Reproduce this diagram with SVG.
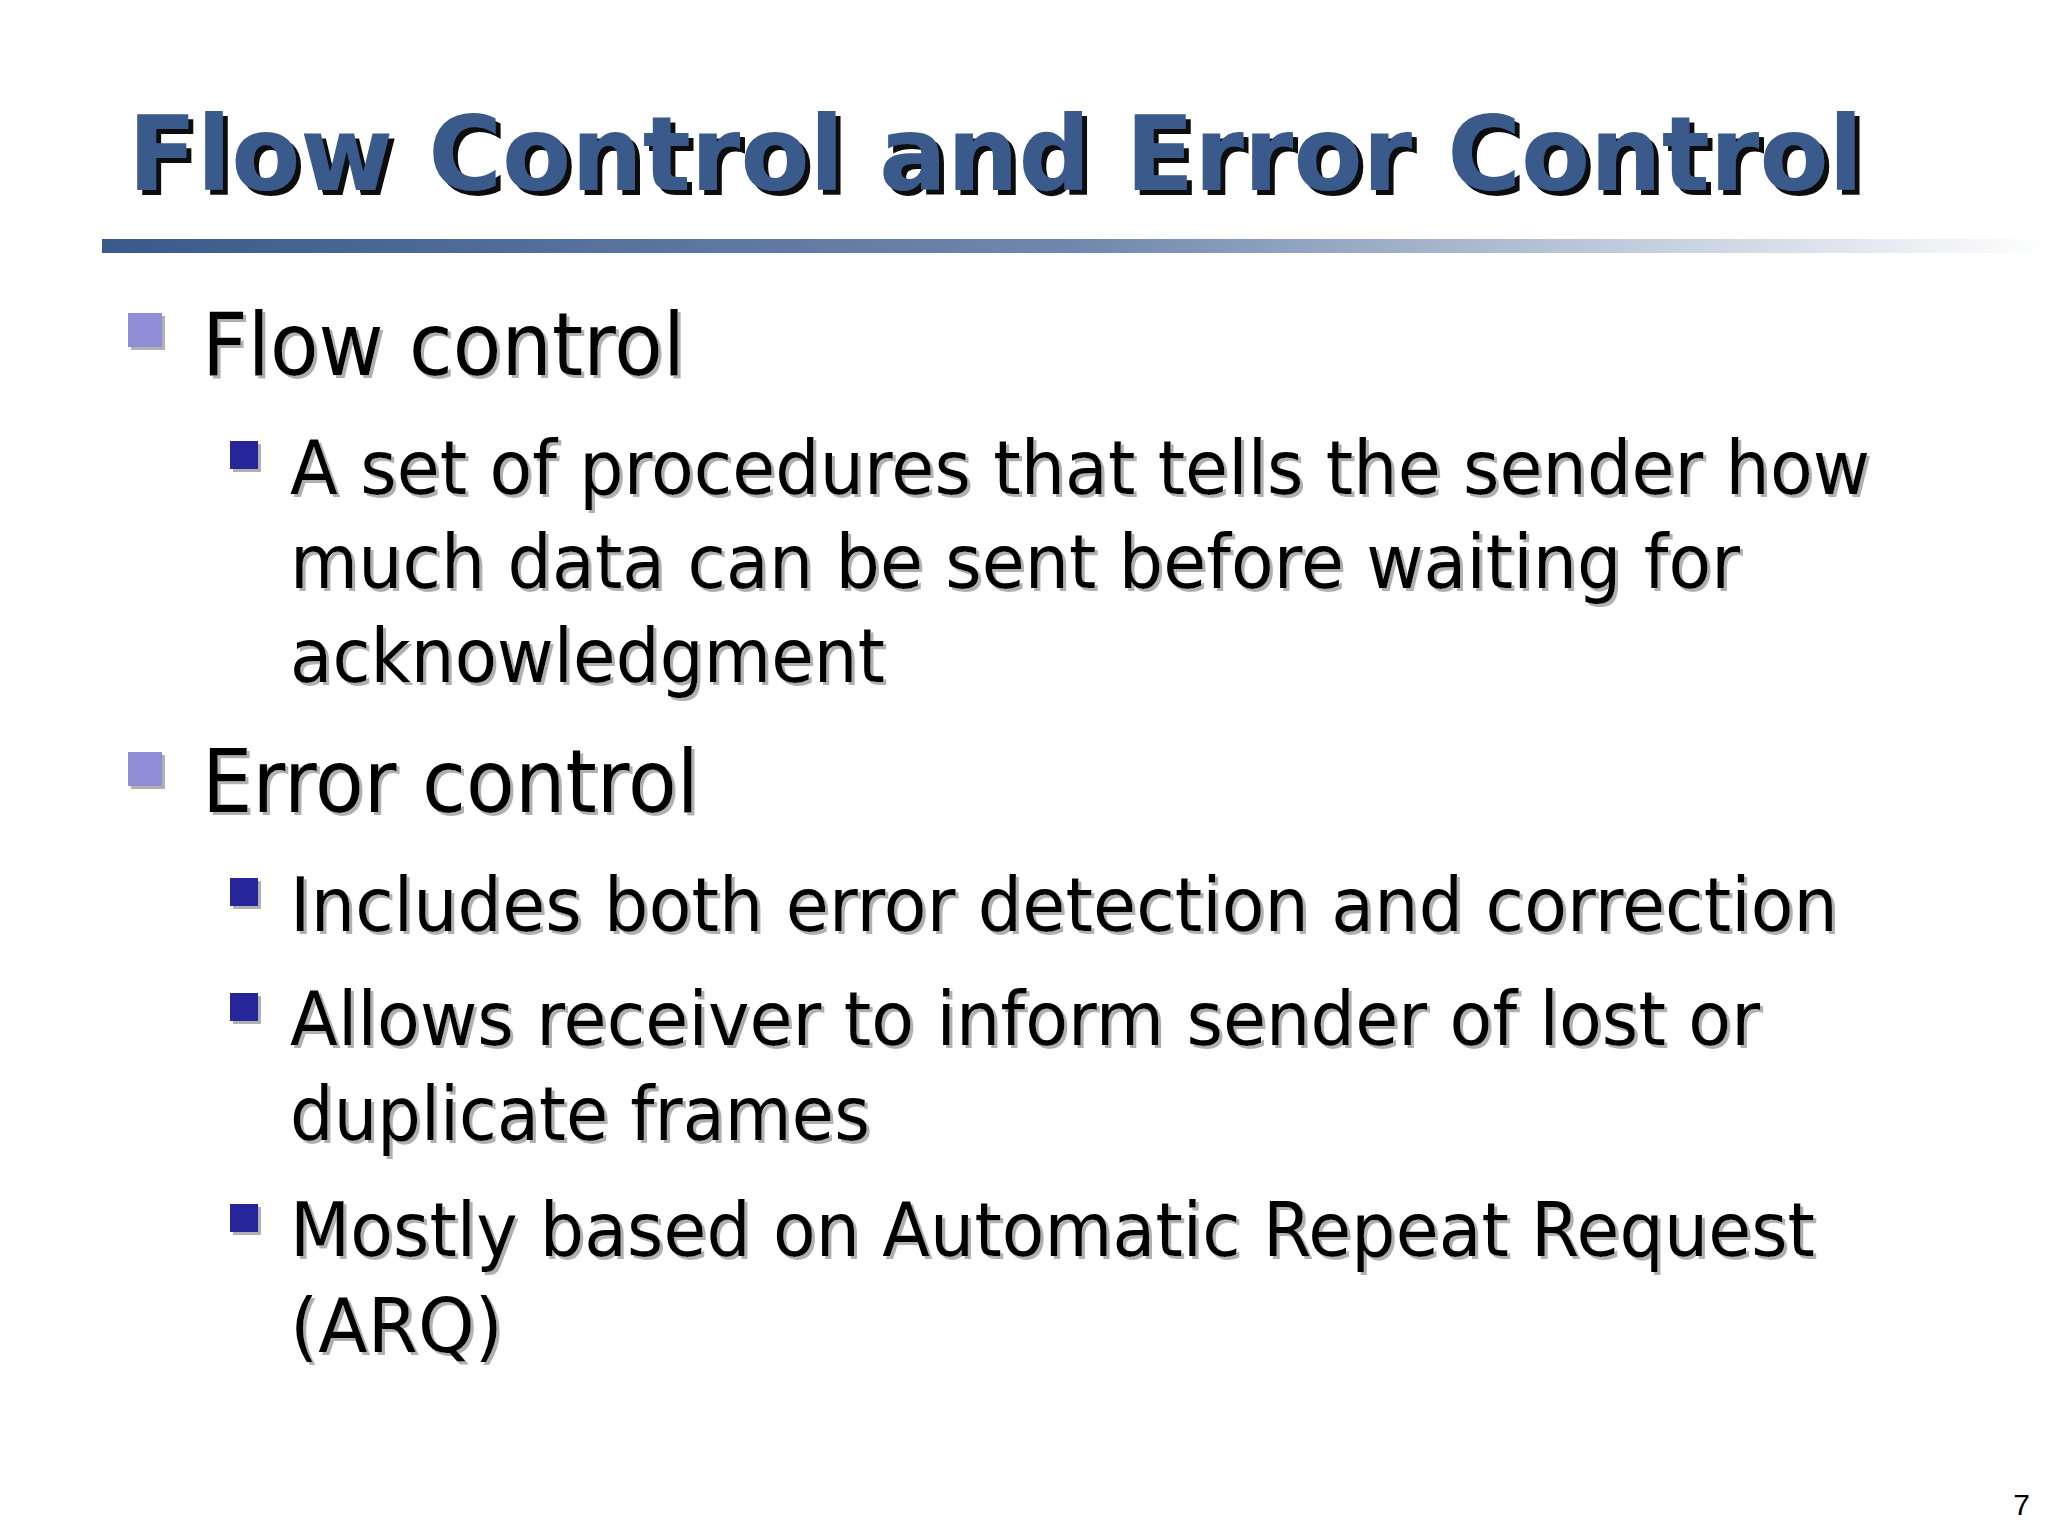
<svg xmlns="http://www.w3.org/2000/svg" width="2048" height="1536" viewBox="0 0 2048 1536">
<defs>
<linearGradient id="rule" x1="0" x2="1" y1="0" y2="0">
<stop offset="0" stop-color="#3a5a8c"/><stop offset="0.5" stop-color="#7088ad"/><stop offset="1" stop-color="#ffffff"/>
</linearGradient>
<filter id="sh" x="-5%" y="-20%" width="110%" height="140%">
<feOffset dx="3" dy="3" in="SourceAlpha" result="o"/>
<feFlood flood-color="#b0b0b0"/><feComposite in2="o" operator="in" result="s"/>
<feMerge><feMergeNode in="s"/><feMergeNode in="SourceGraphic"/></feMerge>
</filter>
<filter id="tsh" x="-5%" y="-20%" width="110%" height="140%">
<feOffset dx="5" dy="5" in="SourceAlpha" result="o"/>
<feFlood flood-color="#111111"/><feComposite in2="o" operator="in" result="s"/>
<feMerge><feMergeNode in="s"/><feMergeNode in="SourceGraphic"/></feMerge>
</filter>
</defs>
<style>
.t{font-family:"DejaVu Sans",Verdana,sans-serif;font-weight:bold;font-size:104px;fill:#3a5a8c}
.l1{font-family:"DejaVu Sans",Verdana,sans-serif;font-size:88px;fill:#000}
.l2{font-family:"DejaVu Sans",Verdana,sans-serif;font-size:74px;fill:#000}
.b1{fill:#8e8ed6}.b2{fill:#27279a}
</style>
<rect width="2048" height="1536" fill="#fff"/>
<g id="title"><text class="t" x="128" y="190" filter="url(#tsh)" textLength="1735" lengthAdjust="spacingAndGlyphs">Flow Control and Error Control</text></g>
<rect x="102" y="239" width="1946" height="14" fill="url(#rule)"/>
<g id="body" filter="url(#sh)">
<rect class="b1" x="128" y="313" width="34" height="34"/>
<text class="l1" x="202" y="375" textLength="483" lengthAdjust="spacingAndGlyphs">Flow control</text>
<rect class="b2" x="230" y="441" width="28" height="28"/>
<text class="l2" x="290" y="494" textLength="1580" lengthAdjust="spacingAndGlyphs">A set of procedures that tells the sender how</text>
<text class="l2" x="290" y="588" textLength="1450" lengthAdjust="spacingAndGlyphs">much data can be sent before waiting for</text>
<text class="l2" x="290" y="682" textLength="595" lengthAdjust="spacingAndGlyphs">acknowledgment</text>
<rect class="b1" x="128" y="752" width="34" height="34"/>
<text class="l1" x="202" y="812" textLength="497" lengthAdjust="spacingAndGlyphs">Error control</text>
<rect class="b2" x="230" y="878" width="28" height="28"/>
<text class="l2" x="290" y="931" textLength="1548" lengthAdjust="spacingAndGlyphs">Includes both error detection and correction</text>
<rect class="b2" x="230" y="993" width="28" height="28"/>
<text class="l2" x="290" y="1045" textLength="1470" lengthAdjust="spacingAndGlyphs">Allows receiver to inform sender of lost or</text>
<text class="l2" x="290" y="1140" textLength="580" lengthAdjust="spacingAndGlyphs">duplicate frames</text>
<rect class="b2" x="230" y="1204" width="28" height="28"/>
<text class="l2" x="290" y="1256" textLength="1525" lengthAdjust="spacingAndGlyphs">Mostly based on Automatic Repeat Request</text>
<text class="l2" x="290" y="1352" textLength="213" lengthAdjust="spacingAndGlyphs">(ARQ)</text>
</g>
<text x="2030" y="1515" text-anchor="end" font-family="Liberation Sans, sans-serif" font-size="30" fill="#000">7</text>
</svg>
